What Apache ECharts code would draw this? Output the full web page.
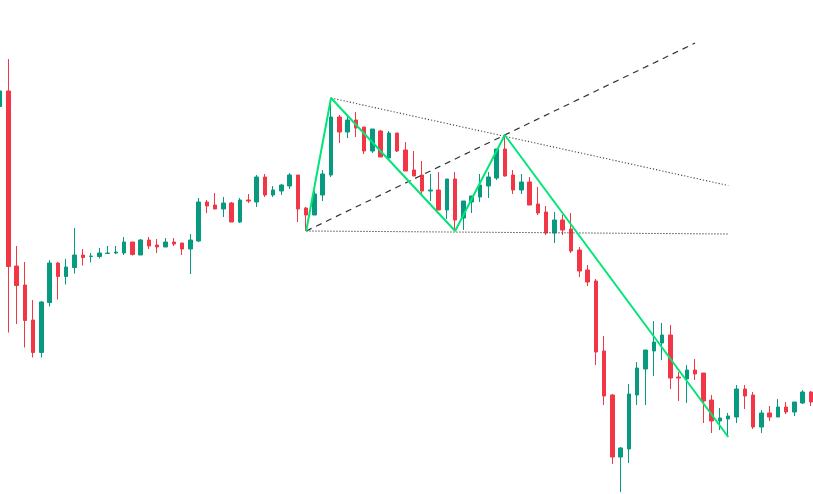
<!DOCTYPE html>
<html>
<head>
<meta charset="utf-8">
<script src="https://cdn.jsdelivr.net/npm/echarts@6/dist/echarts.min.js"></script>
<style>html,body{margin:0;padding:0;background:#fff}#c{width:813px;height:494px}</style>
</head>
<body>
<div id="c"></div>
<script>
// Candle values [one entry per bar]
const opens  = [78.7,81.8,46.8,43.0,36.0,29.5,39.5,47.4,44.7,46.5,49.0,48.7,48.7,49.3,49.4,49.4,51.6,49.0,52.0,51.0,50.6,51.6,51.4,50.2,51.8,59.6,59.0,58.2,59.4,55.6,60.0,59.6,64.6,61.0,61.8,62.8,65.0,58.4,57.0,61.0,65.0,76.6,73.6,76.0,74.6,69.8,73.8,68.4,73.4,70.0,66.0,65.0,61.8,62.0,58.0,64.2,56.4,59.6,60.6,62.8,64.4,70.2,65.0,62.0,63.6,59.2,57.6,53.4,56.0,54.2,50.0,46.0,43.8,29.8,21.0,8.6,10.2,21.0,26.2,29.8,31.4,33.0,24.6,24.2,26.0,25.4,20.0,15.8,16.2,16.6,22.2,21.0,14.6,17.4,16.6,18.6,17.6,19.4,21.6];
const closes = [81.8,46.7,42.9,35.9,29.5,39.6,47.4,44.7,46.6,49.0,48.5,48.8,49.4,49.4,49.6,51.6,49.1,52.0,50.8,50.6,51.6,51.2,50.2,52.0,59.6,58.8,58.2,59.4,55.6,60.0,59.8,64.6,61.0,62.0,63.0,65.0,58.2,57.0,61.2,65.2,76.6,73.6,76.0,74.4,69.8,74.2,68.6,73.4,69.8,65.8,64.8,61.8,62.0,58.0,64.2,56.0,59.8,60.8,63.0,64.6,70.2,64.8,62.0,63.6,59.0,57.4,53.4,56.0,54.0,49.8,45.8,43.6,29.6,20.8,8.6,10.4,21.2,26.4,30.0,31.6,33.0,24.4,24.4,26.0,25.2,19.8,15.8,16.4,16.8,22.2,20.8,14.6,17.4,16.6,18.6,17.6,19.6,21.6,19.6];
const lows   = [78.4,33.5,35.2,30.5,28.5,28.5,38.7,40.1,43.1,45.3,46.9,47.5,48.3,49.3,49.2,49.0,48.9,49.0,50.2,49.4,50.6,50.8,49.0,45.2,51.6,57.4,58.2,56.6,55.6,55.4,59.4,58.6,60.6,60.6,61.0,62.2,55.6,53.8,57.0,59.8,64.6,71.4,72.4,72.6,69.2,69.4,68.6,68.4,69.6,65.8,64.8,61.2,59.8,58.0,56.2,53.8,54.0,57.4,59.6,60.4,64.0,64.7,61.2,61.2,59.0,57.0,53.0,51.4,53.0,49.4,44.6,42.8,27.0,19.0,7.2,1.6,7.4,19.0,19.0,24.8,28.0,22.2,19.8,19.4,24.0,15.4,13.4,14.0,12.8,15.4,18.2,14.2,13.4,15.8,16.6,17.2,16.8,19.2,18.8];
const highs  = [82.2,88.2,50.8,47.6,40.0,39.8,48.0,47.6,48.2,54.4,50.2,49.4,50.4,50.8,50.8,52.6,51.6,52.2,52.6,52.2,52.4,52.4,51.4,53.2,60.4,60.0,61.4,60.6,59.6,60.4,61.2,65.0,65.2,62.8,63.2,65.4,65.0,58.6,61.8,66.0,80.4,77.0,77.0,77.6,74.6,74.2,74.0,73.8,73.4,71.6,69.8,67.8,65.2,65.6,64.2,65.6,59.8,60.8,65.2,65.6,70.2,73.0,66.0,65.2,64.6,62.6,58.8,57.6,57.0,57.4,50.6,47.0,44.2,32.8,21.2,10.6,23.2,27.6,30.0,35.8,35.4,35.0,25.6,27.0,28.2,25.4,21.0,18.4,17.4,23.0,23.0,21.6,18.0,18.8,20.2,19.6,19.6,22.0,21.8];
const categories = opens.map((_, i) => String(i));

// Pattern lines: [bar index, price]
const zigzag      = [[37,53.8],[40,80.4],[55,53.8],[61,73.0],[88,12.6]];
const dashedLine  = [[37,53.8],[84,91.4]];
const upperDotted = [[40,80.4],[88,62.9]];
const lowerDotted = [[37,53.8],[88,53.2]];

const candleData = opens.map((o, i) => [o, closes[i], lows[i], highs[i]]);

const chart = echarts.init(document.getElementById('c'), null, {renderer: 'canvas'});
chart.setOption({
  animation: false,
  backgroundColor: '#ffffff',
  grid: {left: 0, right: 2, top: 0, bottom: 0},
  xAxis: {type: 'category', data: categories, boundaryGap: false, show: false},
  yAxis: {type: 'value', min: 1.2, max: 100, show: false},
  series: [
    {
      type: 'candlestick',
      data: candleData,
      barWidth: 4,
      clip: false,
      itemStyle: {
        color: '#089981', color0: '#F23645',
        borderColor: '#089981', borderColor0: '#F23645',
        borderColorDoji: '#089981', borderWidth: 1
      }
    },
    {
      type: 'line', data: lowerDotted, symbol: 'none', z: 3,
      lineStyle: {color: '#555', width: 1, type: [1.5, 1.5]}
    },
    {
      type: 'line', data: upperDotted, symbol: 'none', z: 3,
      lineStyle: {color: '#444', width: 1.1, type: [1.2, 2]}
    },
    {
      type: 'line', data: dashedLine, symbol: 'none', z: 3,
      lineStyle: {color: '#333', width: 1.2, type: [6, 5]}
    },
    {
      type: 'line', data: zigzag, symbol: 'none', z: 4,
      lineStyle: {color: '#00E676', width: 2}
    }
  ]
});
</script>
</body>
</html>
